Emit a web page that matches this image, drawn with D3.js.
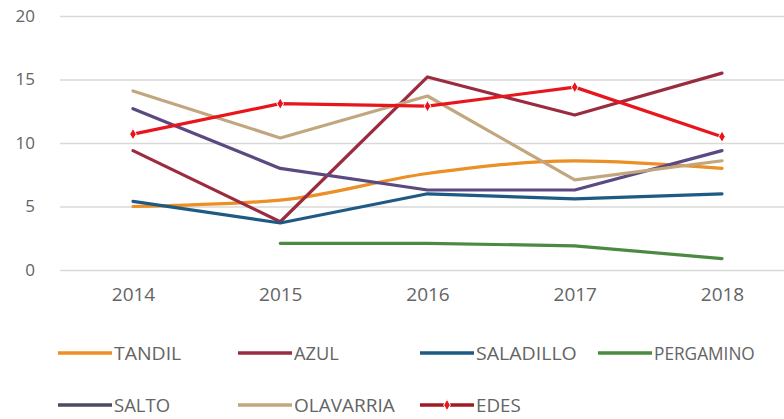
<!DOCTYPE html>
<html>
<head>
<meta charset="utf-8">
<script src="https://cdn.jsdelivr.net/npm/d3@7"></script>
<style>
  html, body { margin: 0; padding: 0; background: #fff; }
  svg { display: block; }
  text { font-family: "Open Sans", "Liberation Sans", sans-serif; fill: #646464; }
</style>
</head>
<body>
<svg id="chart" width="784" height="419"></svg>
<script>
// ---- data ----
const years = ["2014", "2015", "2016", "2017", "2018"];
const yTicks = [0, 5, 10, 15, 20];
const seriesNames = ["TANDIL", "AZUL", "SALADILLO", "PERGAMINO", "SALTO", "OLAVARRIA", "EDES"];
const tandil    = [5.0, 5.5, 7.6, 8.6, 8.0];
const azul      = [9.4, 3.8, 15.2, 12.2, 15.5];
const saladillo = [5.4, 3.7, 6.0, 5.6, 6.0];
const pergamino = [null, 2.1, 2.1, 1.9, 0.9];
const salto     = [12.7, 8.0, 6.3, 6.3, 9.4];
const olavarria = [14.1, 10.4, 13.7, 7.1, 8.6];
const edes      = [10.7, 13.1, 12.9, 14.4, 10.5];
const seriesValues = [tandil, azul, saladillo, pergamino, salto, olavarria, edes];
const smoothSeries = ["TANDIL"];
const colors = ["#ec8f24", "#9b2c40", "#1f5a85", "#4b8a41", "#5b4a82", "#c2a77e", "#e8161c"];
const legendColors = ["#ec8f24", "#9b2c40", "#1f5a85", "#4b8a41", "#4f4a60", "#c2a77e", "#9e1b22"];

// ---- chart ----
const svg = d3.select("#chart");
const x = d3.scalePoint().domain(years).range([133, 722]);
const y = d3.scaleLinear().domain([0, 20]).range([270, 16]);

// gridlines
const yAxis = d3.axisLeft(y).tickValues(yTicks).tickSize(-(784 - 60)).tickPadding(25);
const gy = svg.append("g").attr("transform", "translate(60,0)").call(yAxis);
gy.select(".domain").remove();
gy.selectAll(".tick line").attr("stroke", "#d9d9d9").attr("stroke-width", 1.5);
gy.selectAll(".tick text").attr("font-size", 17).attr("fill", "#646464");

// x axis labels
const xAxis = d3.axisBottom(x).tickSize(0).tickPadding(0);
const gx = svg.append("g").attr("transform", "translate(0,287)").call(xAxis);
gx.select(".domain").remove();
gx.selectAll(".tick text").attr("font-size", 19).attr("fill", "#646464").attr("dy", "0.71em");

seriesValues.forEach((vals, k) => {
  const line = d3.line()
    .defined(d => d != null)
    .x((d, i) => x(years[i]))
    .y(d => y(d))
    .curve(smoothSeries.includes(seriesNames[k]) ? d3.curveMonotoneX : d3.curveLinear);
  svg.append("path")
    .attr("d", line(vals))
    .attr("fill", "none")
    .attr("stroke", colors[k])
    .attr("stroke-width", 3.2)
    .attr("stroke-linejoin", "round")
    .attr("stroke-linecap", "round");
});

// EDES markers
const diamond = d3.symbol().type(d3.symbolDiamond).size(38);
svg.append("g").selectAll("path")
  .data(edes)
  .join("path")
  .attr("d", diamond)
  .attr("transform", (d, i) => `translate(${x(years[i])},${y(d)})`)
  .attr("fill", "#e8161c")
  .attr("stroke", "#fff")
  .attr("stroke-width", 1);

// legend
const legendPos = [
  [58, 353], [238, 353], [420, 353], [598, 353],
  [58, 405], [238, 405], [420, 405]
];
seriesNames.forEach((name, k) => {
  const [lx, ly] = legendPos[k];
  const g = svg.append("g").attr("transform", `translate(${lx},${ly})`);
  g.append("line")
    .attr("x1", 0).attr("x2", 54).attr("y1", 0).attr("y2", 0)
    .attr("stroke", legendColors[k]).attr("stroke-width", 3.5);
  if (name === "EDES") {
    g.append("path").attr("d", diamond).attr("transform", "translate(27,0)")
      .attr("fill", "#e8161c").attr("stroke", "#fff").attr("stroke-width", 1);
  }
  g.append("text")
    .attr("x", 56).attr("y", 0).attr("dy", "0.36em")
    .attr("font-size", 19)
    .attr("textLength", name.length * 11.2)
    .attr("lengthAdjust", "spacingAndGlyphs")
    .text(name);
});
</script>
</body>
</html>
